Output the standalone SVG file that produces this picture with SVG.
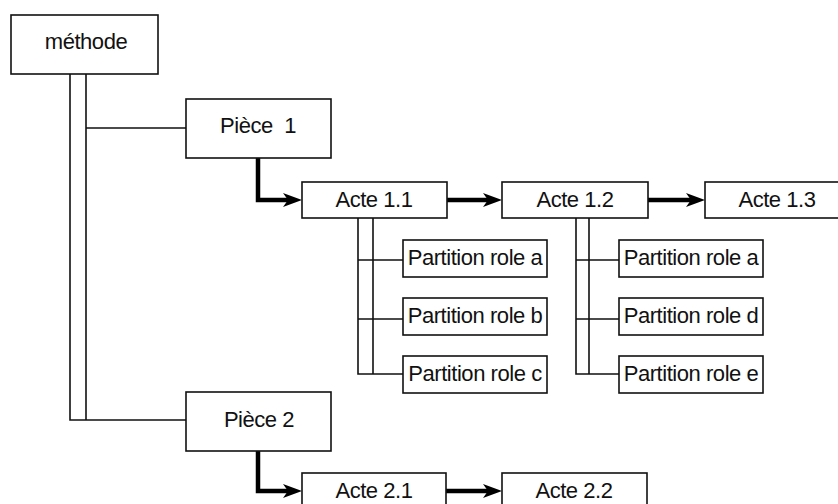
<svg xmlns="http://www.w3.org/2000/svg" width="838" height="504" viewBox="0 0 838 504">
<defs>
<style>
.box{fill:#fff;stroke:#111;stroke-width:1.6}
.t{font-family:"Liberation Sans",Arial,sans-serif;font-size:22px;letter-spacing:-0.45px;fill:#111;text-anchor:middle}
.thin{fill:none;stroke:#111;stroke-width:1.6}
.thick{fill:none;stroke:#000;stroke-width:4.5}
.head{fill:#000;stroke:none}
</style>
</defs>
<rect width="838" height="504" fill="#fff"/>
<g id="connectors">
<path class="thin" d="M70,74 V420 H186 M86,74 V420 M86,128 H186"/>
<path class="thin" d="M358,218 V374 H403 M373,218 V374 M358,260 H403 M358,319 H403"/>
<path class="thin" d="M576,218 V374 H619 M589,218 V374 M576,260 H619 M576,319 H619"/>
<path class="thick" d="M258,158 V200 H288"/>
<path class="thick" d="M447,200 H488"/>
<path class="thick" d="M648,200 H691"/>
<path class="thick" d="M258,451 V491 H288"/>
<path class="thick" d="M446,491 H488"/>
<path class="head" d="M302,200 L283,193 L288,200 L283,207 Z"/>
<path class="head" d="M502,200 L483,193 L488,200 L483,207 Z"/>
<path class="head" d="M705,200 L686,193 L691,200 L686,207 Z"/>
<path class="head" d="M302,491 L283,484 L288,491 L283,498 Z"/>
<path class="head" d="M502,491 L483,484 L488,491 L483,498 Z"/>
</g>
<g id="methode"><rect class="box" x="11" y="15" width="147" height="59"/><text class="t" x="86" y="49">méthode</text></g>
<g id="piece1"><rect class="box" x="186" y="99" width="145" height="59"/><text class="t" x="258" y="133" xml:space="preserve">Pièce  1</text></g>
<g id="piece2"><rect class="box" x="186" y="392" width="145" height="59"/><text class="t" x="259" y="427">Pièce 2</text></g>
<g id="acte11"><rect class="box" x="302" y="182" width="145" height="36"/><text class="t" x="374" y="207">Acte 1.1</text></g>
<g id="acte12"><rect class="box" x="502" y="182" width="146" height="36"/><text class="t" x="575" y="207">Acte 1.2</text></g>
<g id="acte13"><rect class="box" x="705" y="182" width="146" height="36"/><text class="t" x="777" y="207">Acte 1.3</text></g>
<g id="acte21"><rect class="box" x="302" y="473" width="144" height="36"/><text class="t" x="374" y="498">Acte 2.1</text></g>
<g id="acte22"><rect class="box" x="502" y="473" width="145" height="36"/><text class="t" x="574" y="498">Acte 2.2</text></g>
<g id="p11a"><rect class="box" x="403" y="240" width="144" height="37"/><text class="t" x="475" y="265">Partition role a</text></g>
<g id="p11b"><rect class="box" x="403" y="298" width="144" height="37"/><text class="t" x="475" y="323">Partition role b</text></g>
<g id="p11c"><rect class="box" x="403" y="356" width="144" height="37"/><text class="t" x="475" y="381">Partition role c</text></g>
<g id="p12a"><rect class="box" x="619" y="240" width="144" height="37"/><text class="t" x="691" y="265">Partition role a</text></g>
<g id="p12d"><rect class="box" x="619" y="298" width="144" height="37"/><text class="t" x="691" y="323">Partition role d</text></g>
<g id="p12e"><rect class="box" x="619" y="356" width="144" height="37"/><text class="t" x="691" y="381">Partition role e</text></g>
</svg>
